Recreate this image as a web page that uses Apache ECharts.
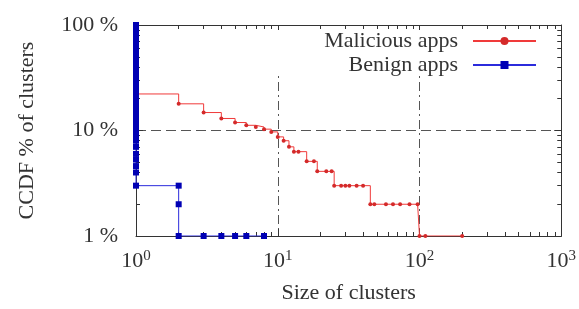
<!DOCTYPE html>
<html>
<head>
<meta charset="utf-8">
<script src="https://cdn.jsdelivr.net/npm/echarts@6/dist/echarts.min.js"></script>
<style>
  html, body { margin: 0; padding: 0; background: #fff; }
  #chart { width: 579px; height: 309px; }
</style>
</head>
<body>
<div id="chart"></div>
<script>
// ---- data ----
const seriesNames = ['Malicious apps', 'Benign apps'];

const maliciousSize = [1, 2, 3, 4, 5, 6, 7, 8, 9, 10, 11, 12, 13, 14, 16, 18, 19, 22, 24, 25, 28, 30, 32, 36, 40, 45, 48, 58, 65, 73, 85, 97, 100, 110, 200];
const maliciousCcdf = [22.2, 17.9, 14.8, 13.0, 11.9, 11.2, 10.8, 10.3, 9.7, 8.7, 8.0, 7.0, 6.3, 6.3, 5.1, 5.1, 4.1, 4.1, 4.1, 3.0, 3.0, 3.0, 3.0, 3.0, 3.0, 2.0, 2.0, 2.0, 2.0, 2.0, 2.0, 2.0, 1.0, 1.0, 1.0];

const benignSize = [1, 1, 1, 1, 1, 1, 1, 1, 1, 1, 1, 1, 1, 1, 1, 1, 1, 1, 1, 1, 1, 1, 1, 1, 1, 1, 1, 1, 1, 1, 1, 1, 1, 1, 2, 2, 2, 3, 4, 5, 6, 8];
const benignCcdf = [100, 94, 88, 82, 76, 70, 65, 60, 55, 50, 46, 42, 38, 34, 31, 28, 25, 22.5, 20, 18, 16.5, 15, 13.5, 12.3, 11.2, 10, 9, 8, 7, 6, 5.3, 4.6, 4, 3, 3, 2, 1, 1, 1, 1, 1, 1];

const xMinorTicks = [2, 3, 4, 5, 6, 7, 8, 9, 20, 30, 40, 50, 60, 70, 80, 90, 200, 300, 400, 500, 600, 700, 800, 900];
const yMinorTicks = [2, 3, 4, 5, 6, 7, 8, 9, 20, 30, 40, 50, 60, 70, 80, 90];
const xAxisTitle = 'Size of clusters';
const yAxisTitle = 'CCDF % of clusters';

// ---- chart ----
const FONT = 'Liberation Serif';
const TXT = '#333';
const AX = '#333';

const pairs = (xs, ys) => xs.map((x, i) => [x, ys[i]]);

const chart = echarts.init(document.getElementById('chart'), null, { renderer: 'canvas' });

const majorX = (pos, extra) => Object.assign({
  type: 'log', logBase: 10, min: 1, max: 1000, gridIndex: 0, position: pos,
  axisLine: { show: true, lineStyle: { color: AX, width: 1 } },
  axisTick: { show: true, inside: true, length: 7, lineStyle: { color: AX } },
  minorTick: { show: false },
  axisLabel: { show: false },
  splitLine: { show: false }
}, extra || {});

const minorX = (pos) => ({
  type: 'log', logBase: 10, min: 1, max: 1000, gridIndex: 0, position: pos,
  axisLine: { show: true, lineStyle: { color: AX, opacity: 0 } },
  axisTick: { show: true, inside: true, length: 4, customValues: xMinorTicks, lineStyle: { color: AX } },
  axisLabel: { show: false },
  splitLine: { show: false }
});

const majorY = (pos, extra) => Object.assign({
  type: 'log', logBase: 10, min: 1, max: 100, gridIndex: 0, position: pos,
  axisLine: { show: true, lineStyle: { color: AX, width: 1 } },
  axisTick: { show: true, inside: true, length: 7, lineStyle: { color: AX } },
  axisLabel: { show: false },
  splitLine: { show: false }
}, extra || {});

const minorY = (pos) => ({
  type: 'log', logBase: 10, min: 1, max: 100, gridIndex: 0, position: pos,
  axisLine: { show: true, lineStyle: { color: AX, opacity: 0 } },
  axisTick: { show: true, inside: true, length: 4, customValues: yMinorTicks, lineStyle: { color: AX } },
  axisLabel: { show: false },
  splitLine: { show: false }
});

const option = {
  animation: false,
  backgroundColor: '#fff',
  textStyle: { fontFamily: FONT },
  grid: { left: 136, right: 16, top: 25, bottom: 70, containLabel: false },
  legend: {
    data: seriesNames,
    orient: 'vertical',
    align: 'right',
    right: 26,
    top: 30,
    itemWidth: 63,
    itemHeight: 10,
    itemGap: 2,
    padding: [0, 16, 0, 70],
    backgroundColor: '#fff',
    textStyle: { fontFamily: FONT, fontSize: 22, color: TXT, padding: [0, 10, 0, 0], lineHeight: 22 },
    z: 10
  },
  xAxis: [
    majorX('bottom', {
      name: xAxisTitle,
      nameLocation: 'middle',
      nameGap: 46,
      nameTextStyle: { fontFamily: FONT, fontSize: 22, color: TXT },
      axisLabel: {
        show: true, margin: 13, color: TXT,
        formatter: function (v) { return '{b|10}{s|' + Math.round(Math.log10(v)) + '}'; },
        rich: {
          b: { fontFamily: FONT, fontSize: 22, color: TXT, lineHeight: 24 },
          s: { fontFamily: FONT, fontSize: 15, color: TXT, verticalAlign: 'top', lineHeight: 24, padding: [0, 0, 8, 0] }
        }
      },
      splitLine: { show: true, lineStyle: { color: '#555', type: [9, 4, 2, 4], width: 1 } }
    }),
    minorX('bottom'),
    majorX('top'),
    minorX('top')
  ],
  yAxis: [
    majorY('left', {
      name: yAxisTitle,
      nameLocation: 'middle',
      nameRotate: 90,
      nameGap: 98,
      nameTextStyle: { fontFamily: FONT, fontSize: 22, color: TXT },
      axisLabel: {
        show: true, margin: 18, color: TXT, fontFamily: FONT, fontSize: 22,
        formatter: function (v) { return v + ' %'; }
      },
      splitLine: { show: true, lineStyle: { color: '#555', type: [10, 5], width: 1 } }
    }),
    minorY('left'),
    majorY('right'),
    minorY('right')
  ],
  series: [
    {
      name: seriesNames[0],
      type: 'line',
      xAxisIndex: 0, yAxisIndex: 0,
      step: 'end',
      data: pairs(maliciousSize, maliciousCcdf),
      symbol: 'circle',
      symbolSize: 4,
      lineStyle: { color: '#f03a3a', width: 1 },
      itemStyle: { color: '#d42a2a' },
      z: 3
    },
    {
      name: seriesNames[1],
      type: 'line',
      xAxisIndex: 0, yAxisIndex: 0,
      step: 'end',
      data: pairs(benignSize, benignCcdf),
      symbol: 'rect',
      symbolSize: 6,
      lineStyle: { color: '#2b2bdc', width: 1 },
      itemStyle: { color: '#0000b4' },
      z: 4
    }
  ]
};

chart.setOption(option);
</script>
</body>
</html>
